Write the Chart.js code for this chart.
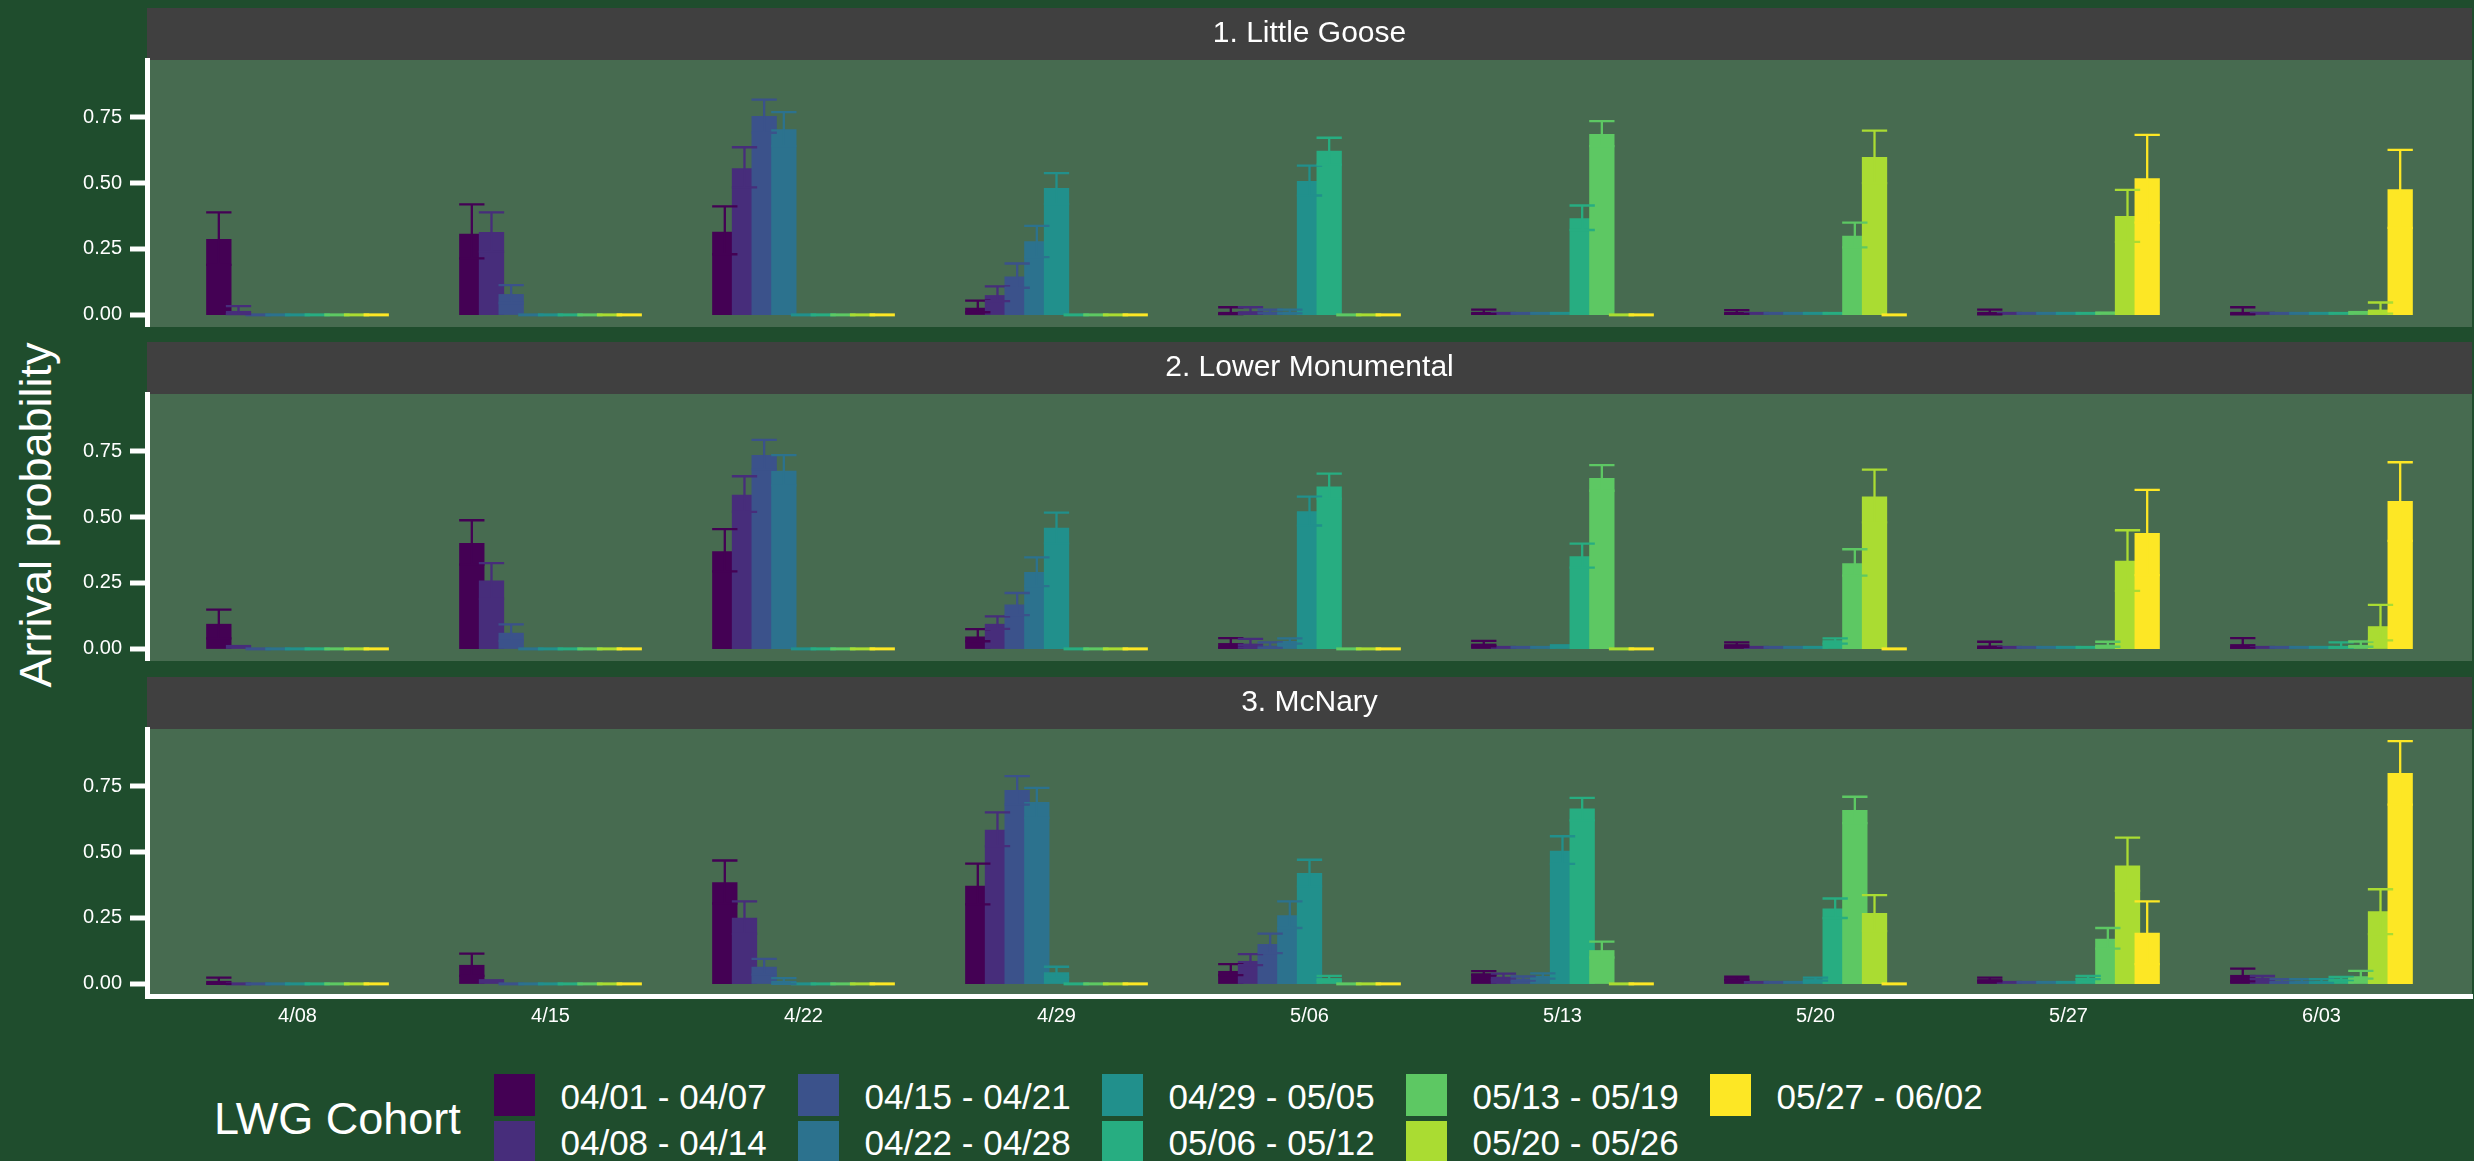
<!DOCTYPE html>
<html>
<head>
<meta charset="utf-8">
<title>Arrival probability by LWG cohort</title>
<script src="https://cdn.jsdelivr.net/npm/chart.js@4.4.1/dist/chart.umd.min.js"></script>
<style>
  html, body { margin: 0; padding: 0; }
  body {
    width: 2474px; height: 1161px; overflow: hidden; position: relative;
    background: #1F4D2D; color: #ffffff;
    font-family: "Liberation Sans", Arial, sans-serif;
  }
  canvas.panel { position: absolute; left: 0; }
  #ytitle {
    position: absolute; left: 34.5px; top: 515px;
    transform: translate(-50%, -50%) rotate(-90deg);
    font-size: 45px; line-height: 1; white-space: nowrap;
  }
  #legend-title {
    position: absolute; left: 214px; top: 1117.5px; transform: translateY(-50%);
    font-size: 45px; line-height: 1; white-space: nowrap;
  }
  .key { position: absolute; width: 41px; height: 42px; }
  .key-label {
    position: absolute; transform: translateY(-50%);
    font-size: 35px; line-height: 1; white-space: nowrap;
  }
</style>
</head>
<body>
<div id="ytitle">Arrival probability</div>
<div id="legend-title">LWG Cohort</div>
<div id="legend"></div>

<script>
// Survey weeks (x axis) and release cohorts (one bar per cohort in each week)
const categories = ['4/08', '4/15', '4/22', '4/29', '5/06', '5/13', '5/20', '5/27', '6/03'];
const cohorts = ['04/01 - 04/07', '04/08 - 04/14', '04/15 - 04/21', '04/22 - 04/28', '04/29 - 05/05',
                 '05/06 - 05/12', '05/13 - 05/19', '05/20 - 05/26', '05/27 - 06/02'];
const cohortColors = ['#440154', '#472D7B', '#3B528B', '#2C728E', '#21908C', '#27AD81', '#5DC863', '#AADC32', '#FDE725'];
const panelTitles = ['1. Little Goose', '2. Lower Monumental', '3. McNary'];
const yTicks = [0, 0.25, 0.5, 0.75];

// Rows = cohorts, columns = weeks
const littleGooseMean = [
  [0.288, 0.308, 0.315, 0.027, 0.011, 0.011, 0.010, 0.008, 0.010],
  [0.015, 0.314, 0.556, 0.075, 0.014, 0.005, 0.005, 0.005, 0.012],
  [0.000, 0.079, 0.755, 0.146, 0.012, 0.005, 0.005, 0.005, 0.008],
  [0.000, 0.000, 0.704, 0.279, 0.012, 0.005, 0.005, 0.005, 0.008],
  [0.000, 0.000, 0.000, 0.481, 0.508, 0.008, 0.005, 0.005, 0.008],
  [0.000, 0.000, 0.000, 0.000, 0.623, 0.367, 0.008, 0.005, 0.008],
  [0.000, 0.000, 0.000, 0.000, 0.000, 0.686, 0.300, 0.013, 0.015],
  [0.000, 0.000, 0.000, 0.000, 0.000, 0.000, 0.599, 0.375, 0.020],
  [0.000, 0.000, 0.000, 0.000, 0.000, 0.000, 0.000, 0.518, 0.477]
];
const littleGooseLower = [
  [0.190, 0.214, 0.230, 0.010, 0.003, 0.004, 0.004, 0.002, 0.002],
  [0.003, 0.240, 0.484, 0.052, 0.004, 0.005, 0.005, 0.005, 0.012],
  [0.000, 0.045, 0.691, 0.103, 0.006, 0.005, 0.005, 0.005, 0.008],
  [0.000, 0.000, 0.640, 0.219, 0.006, 0.005, 0.005, 0.005, 0.008],
  [0.000, 0.000, 0.000, 0.420, 0.453, 0.008, 0.005, 0.005, 0.008],
  [0.000, 0.000, 0.000, 0.000, 0.570, 0.322, 0.008, 0.005, 0.008],
  [0.000, 0.000, 0.000, 0.000, 0.000, 0.640, 0.256, 0.013, 0.015],
  [0.000, 0.000, 0.000, 0.000, 0.000, 0.000, 0.500, 0.277, 0.005],
  [0.000, 0.000, 0.000, 0.000, 0.000, 0.000, 0.000, 0.350, 0.330]
];
const littleGooseUpper = [
  [0.389, 0.419, 0.412, 0.054, 0.029, 0.020, 0.018, 0.020, 0.029],
  [0.033, 0.389, 0.636, 0.108, 0.029, 0.005, 0.005, 0.005, 0.012],
  [0.000, 0.113, 0.817, 0.195, 0.020, 0.005, 0.005, 0.005, 0.008],
  [0.000, 0.000, 0.769, 0.338, 0.020, 0.005, 0.005, 0.005, 0.008],
  [0.000, 0.000, 0.000, 0.538, 0.566, 0.008, 0.005, 0.005, 0.008],
  [0.000, 0.000, 0.000, 0.000, 0.672, 0.415, 0.008, 0.005, 0.008],
  [0.000, 0.000, 0.000, 0.000, 0.000, 0.735, 0.350, 0.013, 0.015],
  [0.000, 0.000, 0.000, 0.000, 0.000, 0.000, 0.699, 0.474, 0.047],
  [0.000, 0.000, 0.000, 0.000, 0.000, 0.000, 0.000, 0.683, 0.626]
];

const lowerMonMean = [
  [0.095, 0.402, 0.370, 0.047, 0.022, 0.020, 0.018, 0.013, 0.018],
  [0.015, 0.259, 0.585, 0.095, 0.020, 0.007, 0.005, 0.006, 0.010],
  [0.000, 0.061, 0.736, 0.168, 0.012, 0.007, 0.005, 0.006, 0.006],
  [0.000, 0.000, 0.676, 0.292, 0.030, 0.007, 0.005, 0.006, 0.006],
  [0.000, 0.000, 0.000, 0.460, 0.522, 0.018, 0.005, 0.006, 0.006],
  [0.000, 0.000, 0.000, 0.000, 0.616, 0.351, 0.033, 0.006, 0.010],
  [0.000, 0.000, 0.000, 0.000, 0.000, 0.648, 0.325, 0.016, 0.015],
  [0.000, 0.000, 0.000, 0.000, 0.000, 0.000, 0.578, 0.334, 0.086],
  [0.000, 0.000, 0.000, 0.000, 0.000, 0.000, 0.000, 0.440, 0.561]
];
const lowerMonLower = [
  [0.040, 0.320, 0.294, 0.029, 0.005, 0.010, 0.008, 0.004, 0.005],
  [0.015, 0.190, 0.520, 0.076, 0.005, 0.007, 0.005, 0.006, 0.010],
  [0.000, 0.030, 0.680, 0.128, 0.004, 0.007, 0.005, 0.006, 0.006],
  [0.000, 0.000, 0.620, 0.238, 0.020, 0.007, 0.005, 0.006, 0.006],
  [0.000, 0.000, 0.000, 0.400, 0.468, 0.018, 0.005, 0.006, 0.006],
  [0.000, 0.000, 0.000, 0.000, 0.570, 0.308, 0.020, 0.006, 0.005],
  [0.000, 0.000, 0.000, 0.000, 0.000, 0.600, 0.278, 0.008, 0.008],
  [0.000, 0.000, 0.000, 0.000, 0.000, 0.000, 0.480, 0.220, 0.032],
  [0.000, 0.000, 0.000, 0.000, 0.000, 0.000, 0.000, 0.280, 0.410]
];
const lowerMonUpper = [
  [0.149, 0.488, 0.454, 0.075, 0.041, 0.030, 0.025, 0.027, 0.041],
  [0.015, 0.325, 0.655, 0.123, 0.038, 0.007, 0.005, 0.006, 0.010],
  [0.000, 0.093, 0.793, 0.212, 0.025, 0.007, 0.005, 0.006, 0.006],
  [0.000, 0.000, 0.735, 0.347, 0.040, 0.007, 0.005, 0.006, 0.006],
  [0.000, 0.000, 0.000, 0.517, 0.578, 0.018, 0.005, 0.006, 0.006],
  [0.000, 0.000, 0.000, 0.000, 0.665, 0.399, 0.040, 0.006, 0.025],
  [0.000, 0.000, 0.000, 0.000, 0.000, 0.697, 0.378, 0.027, 0.028],
  [0.000, 0.000, 0.000, 0.000, 0.000, 0.000, 0.680, 0.450, 0.167],
  [0.000, 0.000, 0.000, 0.000, 0.000, 0.000, 0.000, 0.603, 0.708]
];

const mcNaryMean = [
  [0.008, 0.072, 0.386, 0.372, 0.049, 0.040, 0.022, 0.018, 0.034],
  [0.000, 0.018, 0.251, 0.585, 0.087, 0.027, 0.005, 0.005, 0.024],
  [0.000, 0.000, 0.065, 0.736, 0.151, 0.020, 0.005, 0.005, 0.010],
  [0.000, 0.000, 0.008, 0.690, 0.260, 0.030, 0.005, 0.005, 0.010],
  [0.000, 0.000, 0.000, 0.044, 0.421, 0.505, 0.018, 0.005, 0.010],
  [0.000, 0.000, 0.000, 0.000, 0.022, 0.665, 0.286, 0.024, 0.020],
  [0.000, 0.000, 0.000, 0.000, 0.000, 0.128, 0.660, 0.171, 0.029],
  [0.000, 0.000, 0.000, 0.000, 0.000, 0.000, 0.269, 0.449, 0.276],
  [0.000, 0.000, 0.000, 0.000, 0.000, 0.000, 0.000, 0.194, 0.800]
];
const mcNaryLower = [
  [0.000, 0.030, 0.305, 0.302, 0.033, 0.034, 0.015, 0.010, 0.010],
  [0.000, 0.018, 0.190, 0.523, 0.071, 0.015, 0.005, 0.005, 0.018],
  [0.000, 0.000, 0.035, 0.680, 0.117, 0.012, 0.005, 0.005, 0.004],
  [0.000, 0.000, 0.000, 0.630, 0.212, 0.020, 0.005, 0.005, 0.004],
  [0.000, 0.000, 0.000, 0.025, 0.370, 0.455, 0.012, 0.005, 0.004],
  [0.000, 0.000, 0.000, 0.000, 0.012, 0.620, 0.250, 0.018, 0.014],
  [0.000, 0.000, 0.000, 0.000, 0.000, 0.100, 0.610, 0.134, 0.020],
  [0.000, 0.000, 0.000, 0.000, 0.000, 0.000, 0.200, 0.353, 0.189],
  [0.000, 0.000, 0.000, 0.000, 0.000, 0.000, 0.000, 0.075, 0.680]
];
const mcNaryUpper = [
  [0.024, 0.115, 0.468, 0.456, 0.075, 0.048, 0.027, 0.024, 0.058],
  [0.000, 0.018, 0.313, 0.651, 0.113, 0.039, 0.005, 0.005, 0.030],
  [0.000, 0.000, 0.095, 0.788, 0.191, 0.028, 0.005, 0.005, 0.018],
  [0.000, 0.000, 0.022, 0.744, 0.313, 0.040, 0.005, 0.005, 0.018],
  [0.000, 0.000, 0.000, 0.065, 0.471, 0.560, 0.024, 0.005, 0.018],
  [0.000, 0.000, 0.000, 0.000, 0.030, 0.706, 0.324, 0.030, 0.026],
  [0.000, 0.000, 0.000, 0.000, 0.000, 0.160, 0.710, 0.212, 0.049],
  [0.000, 0.000, 0.000, 0.000, 0.000, 0.000, 0.337, 0.555, 0.359],
  [0.000, 0.000, 0.000, 0.000, 0.000, 0.000, 0.000, 0.313, 0.921]
];

const panelData = [
  { title: panelTitles[0], mean: littleGooseMean, lower: littleGooseLower, upper: littleGooseUpper },
  { title: panelTitles[1], mean: lowerMonMean, lower: lowerMonLower, upper: lowerMonUpper },
  { title: panelTitles[2], mean: mcNaryMean, lower: mcNaryLower, upper: mcNaryUpper }
];

// ---- look & layout ----
const FONT = '"Liberation Sans", Arial, sans-serif';
const STRIP_BG = '#404040';
const PANEL_BG = '#476B50';
const STRIP_H = 52;
const PLOT_H = 267;
const AXIS_H = 40;
const stripTops = [8, 342, 677];

Chart.defaults.font.family = FONT;
Chart.defaults.color = '#ffffff';

// Panel background, facet strip, bars painted cohort by cohort (later cohorts on top), then error bars
const facetPlugin = {
  id: 'facetPanel',
  beforeDraw(chart) {
    const { ctx, chartArea: a } = chart;
    ctx.save();
    ctx.fillStyle = STRIP_BG;
    ctx.fillRect(a.left, 0, a.right - a.left, a.top);
    ctx.fillStyle = PANEL_BG;
    ctx.fillRect(a.left, a.top, a.right - a.left, a.bottom - a.top);
    ctx.restore();
  },
  beforeDatasetsDraw(chart) {
    const ctx = chart.ctx;
    const yScale = chart.scales.y;
    ctx.save();
    chart.data.datasets.forEach((ds, i) => chart.getDatasetMeta(i).controller.draw());
    chart.data.datasets.forEach((ds, i) => {
      const meta = chart.getDatasetMeta(i);
      ctx.strokeStyle = ds.backgroundColor;
      ctx.lineWidth = 2.3;
      meta.data.forEach((bar, k) => {
        const lo = ds.errLow[k], hi = ds.errHigh[k];
        if (!(hi > lo)) return;
        const hw = bar.width / 2;
        const yHi = yScale.getPixelForValue(hi);
        const yLo = yScale.getPixelForValue(lo);
        ctx.beginPath();
        ctx.moveTo(bar.x - hw, yHi); ctx.lineTo(bar.x + hw, yHi);
        ctx.moveTo(bar.x, yHi); ctx.lineTo(bar.x, yLo);
        ctx.moveTo(bar.x - hw, yLo); ctx.lineTo(bar.x + hw, yLo);
        ctx.stroke();
      });
    });
    ctx.restore();
    return false;
  }
};

function buildPanel(p, idx) {
  const isBottom = idx === panelData.length - 1;
  const canvas = document.createElement('canvas');
  canvas.className = 'panel';
  canvas.width = 2474;
  canvas.height = STRIP_H + PLOT_H + (isBottom ? AXIS_H : 0);
  canvas.style.top = stripTops[idx] + 'px';
  document.body.appendChild(canvas);

  const datasets = cohorts.map((name, c) => ({
    label: name,
    data: categories.map((_, k) => ({ x: k, y: p.mean[c][k] })),
    errLow: p.lower[c],
    errHigh: p.upper[c],
    backgroundColor: cohortColors[c],
    borderWidth: 0,
    minBarLength: 3,
    categoryPercentage: 0.7,
    barPercentage: 0.9 / 0.7
  }));

  return new Chart(canvas, {
    type: 'bar',
    data: { datasets },
    plugins: [facetPlugin],
    options: {
      responsive: false,
      animation: false,
      devicePixelRatio: 1,
      layout: { padding: { left: 0, right: 2, top: 0, bottom: 0 } },
      plugins: {
        legend: { display: false },
        tooltip: { enabled: false },
        title: {
          display: true, text: p.title, fullSize: false, color: '#ffffff',
          font: { size: 30, weight: 'normal', lineHeight: 1.2 },
          padding: { top: 8, bottom: 8 }
        }
      },
      scales: {
        x: {
          type: 'linear', offset: false, min: -0.595, max: 8.595,
          display: isBottom,
          grid: { display: false, drawTicks: false },
          border: { display: true, color: '#ffffff', width: 5 },
          ticks: {
            stepSize: 1, includeBounds: false, autoSkip: false, maxRotation: 0,
            padding: 8, color: '#ffffff', font: { size: 20 },
            callback: v => (Number.isInteger(v) && categories[v]) ? categories[v] : ''
          },
          afterFit: s => { s.height = isBottom ? AXIS_H : 0; s.paddingLeft = 0; s.paddingRight = 0; }
        },
        y: {
          min: -0.046, max: 0.967,
          grid: {
            drawOnChartArea: false, drawTicks: true, tickLength: 17,
            lineWidth: 0, tickWidth: 5, tickColor: '#ffffff', color: '#ffffff'
          },
          border: { display: true, color: '#ffffff', width: 5 },
          afterBuildTicks: s => { s.ticks = yTicks.map(v => ({ value: v })); },
          ticks: {
            padding: 8, color: '#ffffff', font: { size: 20 },
            callback: v => Number(v).toFixed(2)
          },
          afterFit: s => { s.width = 147; s.paddingTop = 0; s.paddingBottom = 0; }
        }
      }
    }
  });
}

panelData.forEach(buildPanel);

// Legend: two rows, filled column by column
const legend = document.getElementById('legend');
cohorts.forEach((name, i) => {
  const col = Math.floor(i / 2), row = i % 2;
  const key = document.createElement('div');
  key.className = 'key';
  key.style.left = (494 + 304 * col) + 'px';
  key.style.top = (row === 0 ? 1074 : 1121) + 'px';
  key.style.background = cohortColors[i];
  legend.appendChild(key);
  const label = document.createElement('div');
  label.className = 'key-label';
  label.style.left = (560.5 + 304 * col) + 'px';
  label.style.top = (row === 0 ? 1096 : 1141.5) + 'px';
  label.textContent = name;
  legend.appendChild(label);
});
</script>
</body>
</html>
